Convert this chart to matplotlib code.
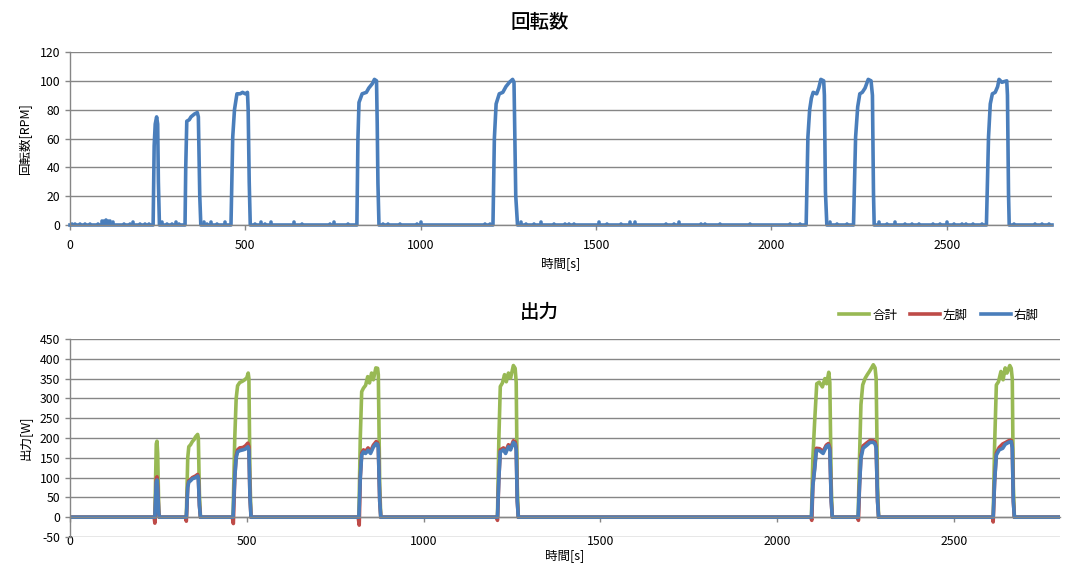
"""
回転数 / 出力 time series, redrawn in the look of the original Excel chart.
Writes out.png (1079x576).
"""

import matplotlib

matplotlib.use("Agg")
import matplotlib.pyplot as plt

plt.rcParams["font.family"] = ["Noto Sans CJK JP", "DejaVu Sans"]
plt.rcParams["axes.unicode_minus"] = False

W, H = 1079, 576
X_MAX = 2800

# ---- 回転数 [RPM]: (time s, rpm) breakpoints
RPM = [
    (0, 0),
    (237, 0), (240, 55), (243, 70), (247, 75), (250, 70), (252, 30), (255, 0),
    (328, 0), (330, 40), (333, 72), (340, 73), (345, 75), (350, 76), (355, 77),
    (363, 78), (366, 75), (370, 20), (373, 0),
    (459, 0), (464, 61), (469, 80), (476, 91), (485, 91), (492, 92), (500, 91),
    (506, 92), (508, 80), (511, 30), (514, 0),
    (818, 0), (821, 60), (824, 85), (833, 91), (845, 92), (852, 95), (862, 98),
    (868, 101), (874, 100), (876, 70), (878, 29), (881, 0),
    (1206, 0), (1210, 60), (1215, 84), (1224, 91), (1234, 92), (1243, 96),
    (1253, 99), (1262, 101), (1266, 99), (1271, 20), (1276, 0),
    (2099, 0), (2104, 61), (2109, 80), (2114, 88), (2119, 92), (2129, 91),
    (2135, 95), (2141, 101), (2149, 100), (2151, 90), (2154, 23), (2158, 0),
    (2234, 0), (2240, 61), (2246, 82), (2252, 91), (2259, 92), (2267, 95),
    (2276, 101), (2284, 100), (2288, 90), (2291, 22), (2293, 0),
    (2613, 0), (2619, 61), (2624, 84), (2630, 91), (2638, 92), (2645, 96),
    (2649, 101), (2657, 99), (2671, 100), (2673, 90), (2676, 22), (2678, 0),
    (2800, 0),
]

# small idle blips on the rpm baseline
RPM_BLIP_T = [5, 15, 28, 42, 58, 80, 90, 96, 102, 108, 114, 122, 155, 170, 180,
              200, 215, 226, 262, 278, 292, 302, 312, 382, 392, 402, 420, 442,
              528, 545, 556, 572, 640, 662, 740, 752, 792, 892, 906, 942, 990,
              1000, 1182, 1198, 1285, 1300, 1322, 1342, 1380, 1412, 1424, 1436,
              1508, 1530, 1570, 1596, 1612, 1700, 1722, 1736, 1800, 1812, 1852,
              1940, 2052, 2082, 2166, 2186, 2216, 2306, 2330, 2352, 2380, 2400,
              2420, 2462, 2482, 2500, 2520, 2542, 2556, 2576, 2600, 2692, 2752,
              2772, 2792]
RPM_BLIP_V = [1, 1, 1, 1, 1, 1, 3, 3, 3.5, 3, 2.5, 2, 1, 1, 2,
              1, 1, 1, 2, 1, 1, 2, 1, 2, 1, 2, 1, 2,
              1, 2, 1, 2, 2, 1, 1, 2, 1, 1, 1, 1, 1,
              2, 1, 1, 2, 1, 1, 2, 1, 1, 1, 1,
              2, 1, 1, 2, 2, 1, 1, 2, 1, 1, 1,
              1, 1, 1, 2, 1, 1, 2, 1, 2, 1, 1,
              1, 1, 1, 2, 1, 1, 1, 1, 1, 1, 1,
              1, 1]

# ---- 出力 [W]: 合計 / 左脚 / 右脚 breakpoints
TOTAL = [
    (0, 0),
    (240, 0), (244, 185), (246, 192), (248, 160), (251, 20), (253, 0),
    (329, 0), (333, 150), (336, 178), (341, 183), (346, 191), (351, 196),
    (355, 203), (361, 209), (363, 200), (366, 60), (369, 0),
    (461, 0), (466, 200), (470, 300), (474, 332), (480, 340), (487, 343),
    (494, 347), (500, 352), (504, 364), (506, 350), (509, 100), (512, 0),
    (817, 0), (821, 200), (825, 317), (830, 326), (836, 333), (842, 355),
    (847, 339), (853, 364), (858, 347), (865, 377), (870, 376), (872, 360),
    (876, 80), (879, 0),
    (1209, 0), (1213, 200), (1217, 330), (1223, 339), (1229, 360), (1234, 342),
    (1240, 364), (1246, 351), (1254, 383), (1259, 376), (1262, 340),
    (1265, 80), (1268, 0),
    (2097, 0), (2101, 150), (2106, 240), (2112, 337), (2119, 341), (2128, 329),
    (2135, 350), (2140, 337), (2146, 366), (2149, 340), (2153, 80), (2156, 0),
    (2229, 0), (2233, 150), (2237, 284), (2242, 334), (2249, 351), (2255, 360),
    (2261, 368), (2267, 377), (2272, 385), (2277, 377), (2280, 350),
    (2284, 80), (2287, 0),
    (2611, 0), (2615, 180), (2620, 334), (2626, 342), (2633, 368), (2639, 347),
    (2645, 377), (2650, 364), (2658, 383), (2662, 376), (2665, 350),
    (2668, 80), (2671, 0),
    (2800, 0),
]

LEFT = [
    (0, 0),
    (238, 0), (240, -15), (242, 40), (244, 98), (246, 102), (248, 80),
    (251, 10), (253, 0),
    (327, 0), (329, -10), (333, 78), (336, 92), (341, 95), (346, 100),
    (355, 104), (361, 108), (363, 100), (366, 30), (369, 0),
    (459, 0), (462, -16), (466, 100), (470, 155), (474, 170), (480, 175),
    (489, 176), (496, 180), (503, 187), (506, 178), (509, 50), (512, 0),
    (815, 0), (818, -20), (821, 100), (825, 162), (830, 170), (836, 166),
    (843, 175), (850, 166), (858, 182), (866, 191), (870, 188), (872, 178),
    (876, 40), (879, 0),
    (1207, 0), (1209, -8), (1213, 100), (1217, 170), (1226, 175), (1232, 166),
    (1240, 183), (1246, 175), (1254, 193), (1259, 190), (1262, 175),
    (1265, 40), (1268, 0),
    (2095, 0), (2098, -8), (2101, 80), (2106, 125), (2111, 174), (2120, 173),
    (2130, 166), (2139, 182), (2145, 186), (2149, 175), (2153, 40), (2156, 0),
    (2227, 0), (2230, -8), (2233, 80), (2237, 154), (2243, 180), (2254, 188),
    (2263, 194), (2272, 193), (2277, 190), (2280, 178), (2284, 40), (2287, 0),
    (2609, 0), (2611, -12), (2615, 90), (2620, 162), (2628, 176), (2638, 185),
    (2645, 188), (2655, 193), (2662, 194), (2665, 178), (2668, 40), (2671, 0),
    (2800, 0),
]

RIGHT = [
    (0, 0),
    (240, 0), (244, 88), (246, 94), (248, 70), (251, 10), (253, 0),
    (329, 0), (333, 75), (336, 89), (341, 92), (346, 97), (355, 100),
    (361, 104), (363, 98), (366, 30), (369, 0),
    (461, 0), (466, 100), (470, 150), (474, 165), (480, 168), (489, 170),
    (496, 172), (503, 178), (506, 170), (509, 50), (512, 0),
    (817, 0), (821, 100), (825, 157), (830, 165), (836, 161), (843, 169),
    (850, 161), (858, 177), (866, 186), (870, 184), (872, 175), (876, 40),
    (879, 0),
    (1209, 0), (1213, 100), (1217, 165), (1226, 170), (1232, 161), (1240, 178),
    (1246, 170), (1254, 189), (1259, 185), (1262, 170), (1265, 40), (1268, 0),
    (2097, 0), (2101, 80), (2106, 120), (2111, 169), (2120, 168), (2130, 161),
    (2139, 178), (2145, 182), (2149, 170), (2153, 40), (2156, 0),
    (2229, 0), (2233, 80), (2237, 149), (2243, 174), (2254, 182), (2263, 189),
    (2272, 189), (2277, 185), (2280, 175), (2284, 40), (2287, 0),
    (2611, 0), (2615, 90), (2620, 157), (2628, 170), (2638, 174), (2645, 184),
    (2655, 189), (2662, 191), (2665, 175), (2668, 40), (2671, 0),
    (2800, 0),
]

X_TICKS = [0, 500, 1000, 1500, 2000, 2500]
RPM_TICKS = [0, 20, 40, 60, 80, 100, 120]
POW_TICKS = [-50, 0, 50, 100, 150, 200, 250, 300, 350, 400, 450]

BLUE = "#4A7EBB"
RED = "#BE4B48"
GREEN = "#98B954"
GRID = "#868686"
LW = 2.6


def split(pairs):
    return [p[0] for p in pairs], [p[1] for p in pairs]


def style_axes(ax, yticks):
    ax.set_xlim(0, X_MAX)
    ax.set_ylim(yticks[0], yticks[-1])
    ax.set_xticks(X_TICKS)
    ax.set_yticks(yticks)
    ax.grid(axis="y", color=GRID, linewidth=1.0)
    ax.set_axisbelow(True)
    for side in ("top", "right"):
        ax.spines[side].set_visible(False)
    for side in ("left", "bottom"):
        ax.spines[side].set_color(GRID)
        ax.spines[side].set_linewidth(1.0)
    ax.tick_params(colors=GRID, labelcolor="black", labelsize=8.8,
                   length=3.5, width=1.0, direction="out")
    ax.tick_params(axis="x", pad=6.5)


def main() -> None:
    fig = plt.figure(figsize=(W / 100, H / 100), dpi=100)

    # ---------- top: 回転数
    ax1 = fig.add_axes([70 / W, 1 - 225 / H, 982 / W, 173 / H])
    style_axes(ax1, RPM_TICKS)
    t, v = split(RPM)
    ax1.plot(t, v, color=BLUE, lw=LW, clip_on=False, solid_joinstyle="round")
    ax1.vlines(RPM_BLIP_T, 0, RPM_BLIP_V, color=BLUE, lw=LW, capstyle="round")
    ax1.set_xlabel("時間[s]", fontsize=9, va="center")
    ax1.xaxis.set_label_coords(0.5, (225 - 264) / 173)
    ax1.set_ylabel("回転数[RPM]", fontsize=9, va="center")
    ax1.yaxis.set_label_coords((25 - 70) / 982, 0.5)
    fig.text(0.5, 1 - 23 / H, "回転数", ha="center", va="center",
             fontsize=14, fontweight="medium")

    # ---------- bottom: 出力
    ax2 = fig.add_axes([70 / W, 1 - 537 / H, 990 / W, 198 / H])
    style_axes(ax2, POW_TICKS)
    ax2.spines["bottom"].set_position(("data", 0))
    ax2.tick_params(axis="x", pad=9)
    for name, pairs, col in (("合計", TOTAL, GREEN),
                             ("左脚", LEFT, RED),
                             ("右脚", RIGHT, BLUE)):
        t, v = split(pairs)
        ax2.plot(t, v, color=col, lw=LW, label=name, solid_joinstyle="round")
    ax2.set_xlabel("時間[s]", fontsize=9, va="center")
    ax2.xaxis.set_label_coords(0.5, (537 - 556) / 198)
    ax2.set_ylabel("出力[W]", fontsize=9, va="center")
    ax2.yaxis.set_label_coords((25 - 70) / 990, 0.5)
    fig.text(0.5, 1 - 312 / H, "出力", ha="center", va="center",
             fontsize=14, fontweight="medium")

    handles, labels = ax2.get_legend_handles_labels()
    fig.legend(handles, labels, loc="center right",
               bbox_to_anchor=(1050 / W, 1 - 315 / H), ncol=3, frameon=False,
               fontsize=9, handlelength=2.4, handletextpad=0.25,
               columnspacing=1.0)

    fig.savefig("out.png", dpi=100)


if __name__ == "__main__":
    main()
